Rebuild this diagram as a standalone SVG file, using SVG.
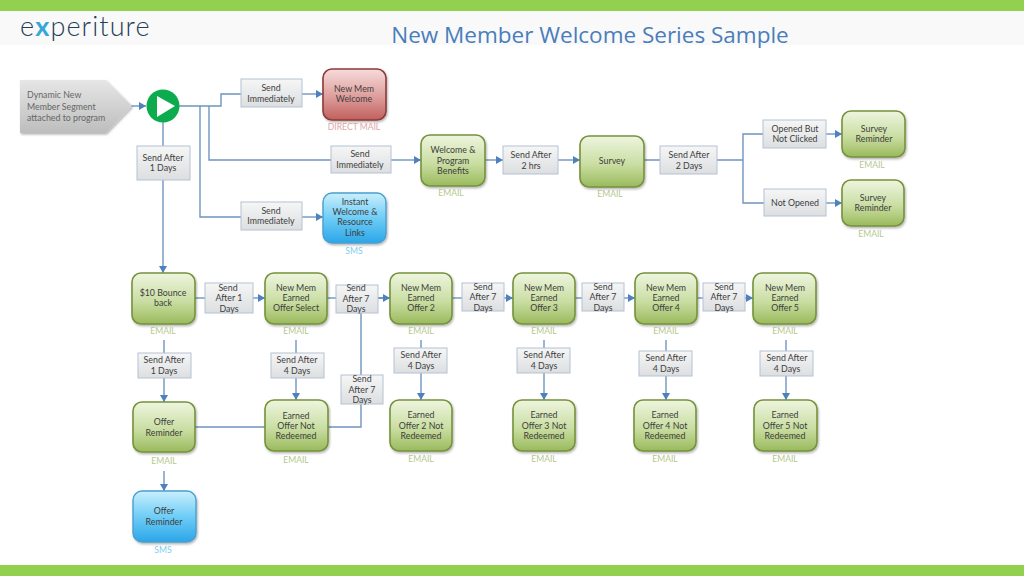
<svg xmlns="http://www.w3.org/2000/svg" width="1024" height="576" viewBox="0 0 1024 576">
<style>
text{font-family:Lato,"Open Sans","Liberation Sans",sans-serif;text-anchor:middle}
.t{font-size:8.8px;fill:#3d3d3d}
.c{font-size:8.6px;fill:#b3c98c}
.n{fill:url(#g);stroke:#76923c;stroke-width:1.6}
.b{fill:url(#bl);stroke:#4a9fd0;stroke-width:1.4}
.r{fill:url(#rd);stroke:#8c3a38;stroke-width:1.6}
.l{fill:url(#gr);stroke:#b4c2d4;stroke-width:1}
.w{fill:none;stroke:#6f94c0;stroke-width:1.4}
.a{marker-end:url(#m)}
</style>
<defs>
<linearGradient id="g" x1="0" y1="0" x2="0" y2="1"><stop offset="0" stop-color="#eef5df"/><stop offset=".55" stop-color="#cadea3"/><stop offset="1" stop-color="#9aba5c"/></linearGradient>
<linearGradient id="bl" x1="0" y1="0" x2="0" y2="1"><stop offset="0" stop-color="#c9effd"/><stop offset=".5" stop-color="#6fcdf6"/><stop offset="1" stop-color="#2ba6e8"/></linearGradient>
<linearGradient id="rd" x1="0" y1="0" x2="0" y2="1"><stop offset="0" stop-color="#f6dcdb"/><stop offset=".55" stop-color="#dd9d9b"/><stop offset="1" stop-color="#c0605d"/></linearGradient>
<linearGradient id="gr" x1="0" y1="0" x2="0" y2="1"><stop offset="0" stop-color="#f6f6f6"/><stop offset="1" stop-color="#dcdee0"/></linearGradient>
<linearGradient id="seg" x1="0" y1="0" x2="0" y2="1"><stop offset="0" stop-color="#e6e6e6"/><stop offset="1" stop-color="#bdbdbd"/></linearGradient>
<marker id="m" markerWidth="8" markerHeight="9" refX="7" refY="4" orient="auto" markerUnits="userSpaceOnUse"><path d="M0 0L7 4L0 8z" fill="#4f81bd"/></marker>
<filter id="s" x="-10%" y="-10%" width="125%" height="125%"><feDropShadow dx="1" dy="1.5" stdDeviation="1.2" flood-color="#000" flood-opacity=".3"/></filter>
</defs>
<rect width="1024" height="576" fill="#fff"/>
<rect y="11" width="1024" height="34" fill="#f9f9f9"/>
<rect width="1024" height="11" fill="#92d050"/>
<rect y="565" width="1024" height="11" fill="#92d050"/>
<text x="20" y="36" style="text-anchor:start;font-family:Lato,'Open Sans',sans-serif;font-weight:300;font-size:27px;letter-spacing:1.1px" fill="#1f4055">e<tspan fill="#35a7d8" font-weight="700">x</tspan>periture</text>
<text x="590" y="43" style="font-family:'Open Sans','Noto Sans',sans-serif;font-size:22.5px" fill="#4a7ebb">New Member Welcome Series Sample</text>

<g id="connectors">
<path class="w a" d="M131 106H146"/>
<path class="w" d="M179 106H221V94H241"/>
<path class="w a" d="M302 94H323"/>
<path class="w" d="M200 106V217H241"/>
<path class="w a" d="M302 217H323"/>
<path class="w" d="M209 106V160H331"/>
<path class="w a" d="M391 160H421"/>
<path class="w a" d="M163 122V273"/>
<path class="w a" d="M485 160H503"/><path class="w a" d="M558 160H580"/>
<path class="w" d="M644 160H660M717 160H743V134H763M743 160V203H764"/>
<path class="w a" d="M826 134H842"/><path class="w a" d="M826 203H842"/>
<path class="w" d="M195 298H205"/><path class="w a" d="M253 298H265"/>
<path class="w" d="M327 298H336"/><path class="w a" d="M378 298H390" style="stroke-width:2"/>
<path class="w" d="M452 298H462"/><path class="w a" d="M504 298H513"/>
<path class="w" d="M575 298H582"/><path class="w a" d="M624 298H635"/>
<path class="w" d="M697 298H703"/><path class="w a" d="M745 298H753"/>
<path class="w" d="M195 427H361V308"/>
<path class="w" d="M164 340V353"/><path class="w a" d="M164 378V402"/>
<path class="w" d="M296 340V353"/><path class="w a" d="M296 378V400"/>
<path class="w" d="M421 340V348"/><path class="w a" d="M421 373V400"/>
<path class="w" d="M544 340V348"/><path class="w a" d="M544 373V400"/>
<path class="w" d="M666 340V351"/><path class="w a" d="M666 376V400"/>
<path class="w" d="M786 340V351"/><path class="w a" d="M786 376V400"/>
<path class="w a" d="M164 471V491"/>
</g>

<g id="segment"><path d="M20 80H106L132 106L106 133H20z" fill="url(#seg)" filter="url(#s)"/>
<text class="t" x="27" y="98" style="text-anchor:start;fill:#666">Dynamic New</text><text class="t" x="27" y="110" style="text-anchor:start;fill:#666">Member Segment</text><text class="t" x="27" y="121" style="text-anchor:start;fill:#666">attached to program</text></g>
<g id="start"><circle cx="163" cy="106" r="16.5" fill="#0bab4e"/><path d="M157 96L175 106L157 117z" fill="#fff"/></g>

<g id="l1"><rect class="l" x="241" y="79" width="61" height="28"/><text class="t" x="271" y="91">Send</text><text class="t" x="271" y="102">Immediately</text></g>
<g id="l2"><rect class="l" x="331" y="146" width="60" height="27"/><text class="t" x="360" y="157">Send</text><text class="t" x="360" y="168">Immediately</text></g>
<g id="l3"><rect class="l" x="241" y="202" width="61" height="28"/><text class="t" x="271" y="214">Send</text><text class="t" x="271" y="224">Immediately</text></g>
<g id="l4"><rect class="l" x="137" y="146" width="53" height="34"/><text class="t" x="163" y="161">Send After</text><text class="t" x="163" y="171">1 Days</text></g>
<g id="l5"><rect class="l" x="503" y="146" width="55" height="28"/><text class="t" x="531" y="158">Send After</text><text class="t" x="531" y="169">2 hrs</text></g>
<g id="l6"><rect class="l" x="660" y="146" width="57" height="28"/><text class="t" x="689" y="158">Send After</text><text class="t" x="689" y="169">2 Days</text></g>
<g id="l7"><rect class="l" x="763" y="120" width="63" height="28"/><text class="t" x="795" y="132">Opened But</text><text class="t" x="795" y="142">Not Clicked</text></g>
<g id="l8"><rect class="l" x="764" y="189" width="62" height="27"/><text class="t" x="795" y="206">Not Opened</text></g>
<g id="l9"><rect class="l" x="205" y="283" width="48" height="30"/><text class="t" x="228" y="291">Send</text><text class="t" x="229" y="301">After 1</text><text class="t" x="229" y="312">Days</text></g>
<g id="l10"><rect class="l" x="336" y="285" width="42" height="28"/><text class="t" x="356" y="291">Send</text><text class="t" x="356" y="302">After 7</text><text class="t" x="356" y="312">Days</text></g>
<g id="l11"><rect class="l" x="462" y="283" width="42" height="28"/><text class="t" x="483" y="290">Send</text><text class="t" x="483" y="300">After 7</text><text class="t" x="483" y="311">Days</text></g>
<g id="l12"><rect class="l" x="582" y="283" width="42" height="28"/><text class="t" x="603" y="290">Send</text><text class="t" x="603" y="300">After 7</text><text class="t" x="603" y="311">Days</text></g>
<g id="l13"><rect class="l" x="703" y="283" width="42" height="28"/><text class="t" x="724" y="290">Send</text><text class="t" x="724" y="300">After 7</text><text class="t" x="724" y="311">Days</text></g>
<g id="l14"><rect class="l" x="138" y="353" width="53" height="25"/><text class="t" x="164" y="363">Send After</text><text class="t" x="164" y="374">1 Days</text></g>
<g id="l15"><rect class="l" x="271" y="353" width="53" height="25"/><text class="t" x="297" y="363">Send After</text><text class="t" x="297" y="374">4 Days</text></g>
<g id="l16"><rect class="l" x="394" y="348" width="53" height="25"/><text class="t" x="421" y="358">Send After</text><text class="t" x="421" y="369">4 Days</text></g>
<g id="l17"><rect class="l" x="517" y="348" width="53" height="25"/><text class="t" x="544" y="358">Send After</text><text class="t" x="544" y="369">4 Days</text></g>
<g id="l18"><rect class="l" x="639" y="351" width="53" height="25"/><text class="t" x="666" y="361">Send After</text><text class="t" x="666" y="372">4 Days</text></g>
<g id="l19"><rect class="l" x="760" y="351" width="53" height="25"/><text class="t" x="787" y="361">Send After</text><text class="t" x="787" y="372">4 Days</text></g>
<g id="l20"><rect class="l" x="341" y="375" width="42" height="29"/><text class="t" x="362" y="382">Send</text><text class="t" x="362" y="393">After 7</text><text class="t" x="362" y="403">Days</text></g>

<g id="n1"><rect class="r" x="323" y="69" width="63" height="51" rx="9" filter="url(#s)"/><text class="t" x="354" y="92">New Mem</text><text class="t" x="354" y="102">Welcome</text><text class="c" x="354" y="130" style="fill:#e0a8a6">DIRECT MAIL</text></g>
<g id="n2"><rect class="n" x="421" y="135" width="64" height="51" rx="9" filter="url(#s)"/><text class="t" x="453" y="153">Welcome &amp;</text><text class="t" x="453" y="164">Program</text><text class="t" x="453" y="174">Benefits</text><text class="c" x="451" y="196">EMAIL</text></g>
<g id="n3"><rect class="n" x="580" y="136" width="64" height="51" rx="9" filter="url(#s)"/><text class="t" x="612" y="164">Survey</text><text class="c" x="610" y="197">EMAIL</text></g>
<g id="n4"><rect class="n" x="842" y="111" width="63" height="46" rx="9" filter="url(#s)"/><text class="t" x="874" y="132">Survey</text><text class="t" x="874" y="142">Reminder</text><text class="c" x="872" y="168">EMAIL</text></g>
<g id="n5"><rect class="n" x="842" y="180" width="62" height="46" rx="9" filter="url(#s)"/><text class="t" x="873" y="201">Survey</text><text class="t" x="873" y="211">Reminder</text><text class="c" x="871" y="237">EMAIL</text></g>
<g id="n6"><rect class="b" x="323" y="193" width="63" height="50" rx="9" filter="url(#s)"/><text class="t" x="355" y="205">Instant</text><text class="t" x="355" y="215">Welcome &amp;</text><text class="t" x="355" y="225">Resource</text><text class="t" x="355" y="236">Links</text><text class="c" x="354" y="254" style="fill:#7fcdec">SMS</text></g>
<g id="n7"><rect class="n" x="132" y="273" width="63" height="51" rx="9" filter="url(#s)"/><text class="t" x="163" y="296">$10 Bounce</text><text class="t" x="163" y="306">back</text><text class="c" x="163" y="334">EMAIL</text></g>
<g id="n8"><rect class="n" x="265" y="273" width="62" height="51" rx="9" filter="url(#s)"/><text class="t" x="296" y="291">New Mem</text><text class="t" x="296" y="301">Earned</text><text class="t" x="296" y="311">Offer Select</text><text class="c" x="296" y="334">EMAIL</text></g>
<g id="n9"><rect class="n" x="390" y="273" width="62" height="51" rx="9" filter="url(#s)"/><text class="t" x="421" y="291">New Mem</text><text class="t" x="421" y="301">Earned</text><text class="t" x="421" y="311">Offer 2</text><text class="c" x="421" y="334">EMAIL</text></g>
<g id="n10"><rect class="n" x="513" y="273" width="62" height="51" rx="9" filter="url(#s)"/><text class="t" x="544" y="291">New Mem</text><text class="t" x="544" y="301">Earned</text><text class="t" x="544" y="311">Offer 3</text><text class="c" x="544" y="334">EMAIL</text></g>
<g id="n11"><rect class="n" x="635" y="273" width="62" height="51" rx="9" filter="url(#s)"/><text class="t" x="666" y="291">New Mem</text><text class="t" x="666" y="301">Earned</text><text class="t" x="666" y="311">Offer 4</text><text class="c" x="666" y="334">EMAIL</text></g>
<g id="n12"><rect class="n" x="753" y="273" width="63" height="51" rx="9" filter="url(#s)"/><text class="t" x="785" y="291">New Mem</text><text class="t" x="785" y="301">Earned</text><text class="t" x="785" y="311">Offer 5</text><text class="c" x="785" y="334">EMAIL</text></g>
<g id="n13"><rect class="n" x="133" y="402" width="62" height="50" rx="9" filter="url(#s)"/><text class="t" x="164" y="425">Offer</text><text class="t" x="164" y="436">Reminder</text><text class="c" x="164" y="464">EMAIL</text></g>
<g id="n14"><rect class="n" x="265" y="400" width="63" height="51" rx="9" filter="url(#s)"/><text class="t" x="296" y="419">Earned</text><text class="t" x="296" y="429">Offer Not</text><text class="t" x="296" y="439">Redeemed</text><text class="c" x="296" y="463">EMAIL</text></g>
<g id="n15"><rect class="n" x="390" y="400" width="62" height="51" rx="9" filter="url(#s)"/><text class="t" x="421" y="418">Earned</text><text class="t" x="421" y="429">Offer 2 Not</text><text class="t" x="421" y="439">Redeemed</text><text class="c" x="421" y="462">EMAIL</text></g>
<g id="n16"><rect class="n" x="513" y="400" width="62" height="51" rx="9" filter="url(#s)"/><text class="t" x="544" y="418">Earned</text><text class="t" x="544" y="429">Offer 3 Not</text><text class="t" x="544" y="439">Redeemed</text><text class="c" x="544" y="462">EMAIL</text></g>
<g id="n17"><rect class="n" x="634" y="400" width="62" height="51" rx="9" filter="url(#s)"/><text class="t" x="665" y="418">Earned</text><text class="t" x="665" y="429">Offer 4 Not</text><text class="t" x="665" y="439">Redeemed</text><text class="c" x="665" y="462">EMAIL</text></g>
<g id="n18"><rect class="n" x="754" y="400" width="63" height="51" rx="9" filter="url(#s)"/><text class="t" x="785" y="418">Earned</text><text class="t" x="785" y="429">Offer 5 Not</text><text class="t" x="785" y="439">Redeemed</text><text class="c" x="785" y="462">EMAIL</text></g>
<g id="n19"><rect class="b" x="133" y="491" width="63" height="51" rx="9" filter="url(#s)"/><text class="t" x="164" y="514">Offer</text><text class="t" x="164" y="525">Reminder</text><text class="c" x="163" y="553" style="fill:#7fcdec">SMS</text></g>
</svg>
